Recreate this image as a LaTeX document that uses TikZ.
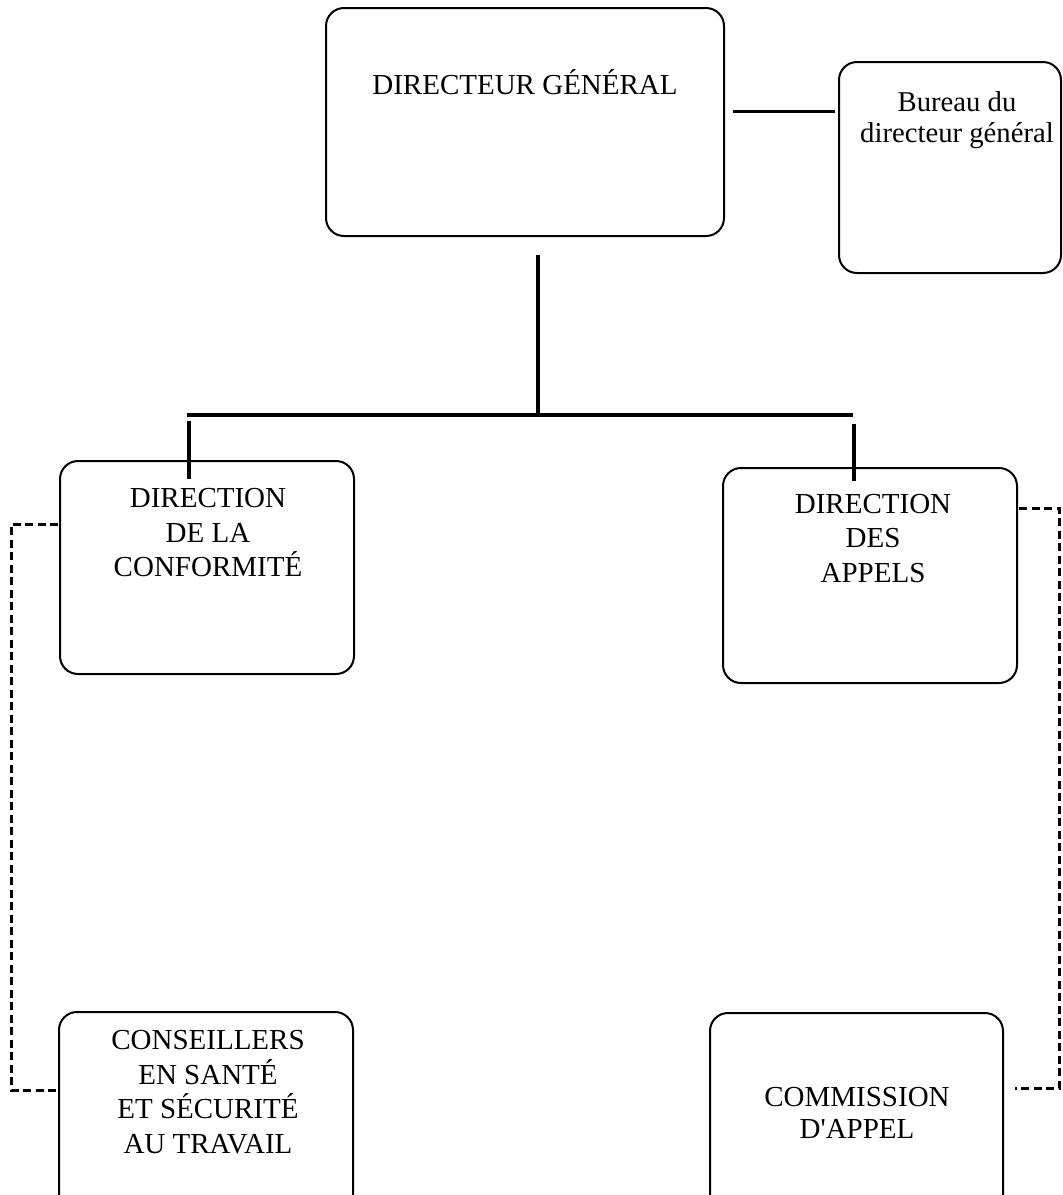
\documentclass[tikz,border=0pt]{standalone}
\usepackage{fontspec}
\setmainfont{Liberation Serif}[Ligatures=TeXOff]
\begin{document}
\begin{tikzpicture}[x=1pt,y=-1pt,
  box/.style={draw=black, line width=2pt, rounded corners=18pt},
  lbl/.style={align=center, inner sep=0pt, font=\fontsize{29}{34.5}\selectfont},
  solidline/.style={line width=3.5pt},
  dashline/.style={line width=3pt, dash pattern=on 8pt off 4.5pt}]
\useasboundingbox (0,0) rectangle (1063,1195);
\clip (0,0) rectangle (1063,1195);
% boxes
\draw[box] (326,8) rectangle (724,236);
\node[inner sep=0pt, minimum width=398pt, minimum height=228pt] (dg) at (525,122) {};
\draw[box] (839,62) rectangle (1061,273);
\node[inner sep=0pt, minimum width=222pt, minimum height=211pt] (bur) at (950,167.5) {};
\draw[box] (60,461) rectangle (354,674);
\node[inner sep=0pt, minimum width=294pt, minimum height=213pt] (conf) at (207,567.5) {};
\draw[box] (723,468) rectangle (1017,683);
\node[inner sep=0pt, minimum width=294pt, minimum height=215pt] (app) at (870,575.5) {};
\draw[box] (59,1012) rectangle (353,1240);
\node[inner sep=0pt, minimum width=294pt, minimum height=228pt] (cons) at (206,1126) {};
\draw[box] (710,1013) rectangle (1003,1240);
\node[inner sep=0pt, minimum width=293pt, minimum height=227pt] (comm) at (856.5,1126.5) {};
% texts
\node[lbl] (tdg) at (525,82) {DIRECTEUR GÉNÉRAL};
\node[lbl, font=\fontsize{28.7}{31}\selectfont] (tbur) at (957,120) {Bureau du\\directeur général};
\node[lbl] (tconf) at (208,533) {DIRECTION\\DE LA\\CONFORMITÉ};
\node[lbl] (tapp) at (873,538.5) {DIRECTION\\DES\\APPELS};
\node[lbl] (tcons) at (208,1092) {CONSEILLERS\\EN SANTÉ\\ET SÉCURITÉ\\AU TRAVAIL};
\node[lbl, font=\fontsize{29}{32}\selectfont] (tcomm) at (857,1113) {COMMISSION\\D'APPEL};
% connector coordinates
\coordinate (b1) at (733,111);
\coordinate (b2) at (835,111);
\coordinate (v1) at (538,255);
\coordinate (v2) at (538,415);
\coordinate (hl) at (187,415);
\coordinate (hr) at (853,415);
\coordinate (l1) at (189,421);
\coordinate (l2) at (189,479);
\coordinate (r1) at (854,424);
\coordinate (r2) at (854,481);
\coordinate (dl1) at (58,524);
\coordinate (dl2) at (11,524);
\coordinate (dl3) at (11,1090);
\coordinate (dl4) at (57,1090);
\coordinate (dr1) at (1019,508);
\coordinate (dr2) at (1059,508);
\coordinate (dr3) at (1059,1088);
\coordinate (dr4) at (1015,1088);
% solid connectors
\draw[line width=3pt] (b1) -- (b2);
\draw[solidline] (v1) -- (v2);
\draw[solidline] (hl) -- (hr);
\draw[solidline] (l1) -- (l2);
\draw[solidline] (r1) -- (r2);
% dashed connectors
\draw[dashline] (dl1) -- (dl2) -- (dl3) -- (dl4);
\draw[dashline] (dr1) -- (dr2) -- (dr3) -- (dr4);
\end{tikzpicture}
\end{document}
